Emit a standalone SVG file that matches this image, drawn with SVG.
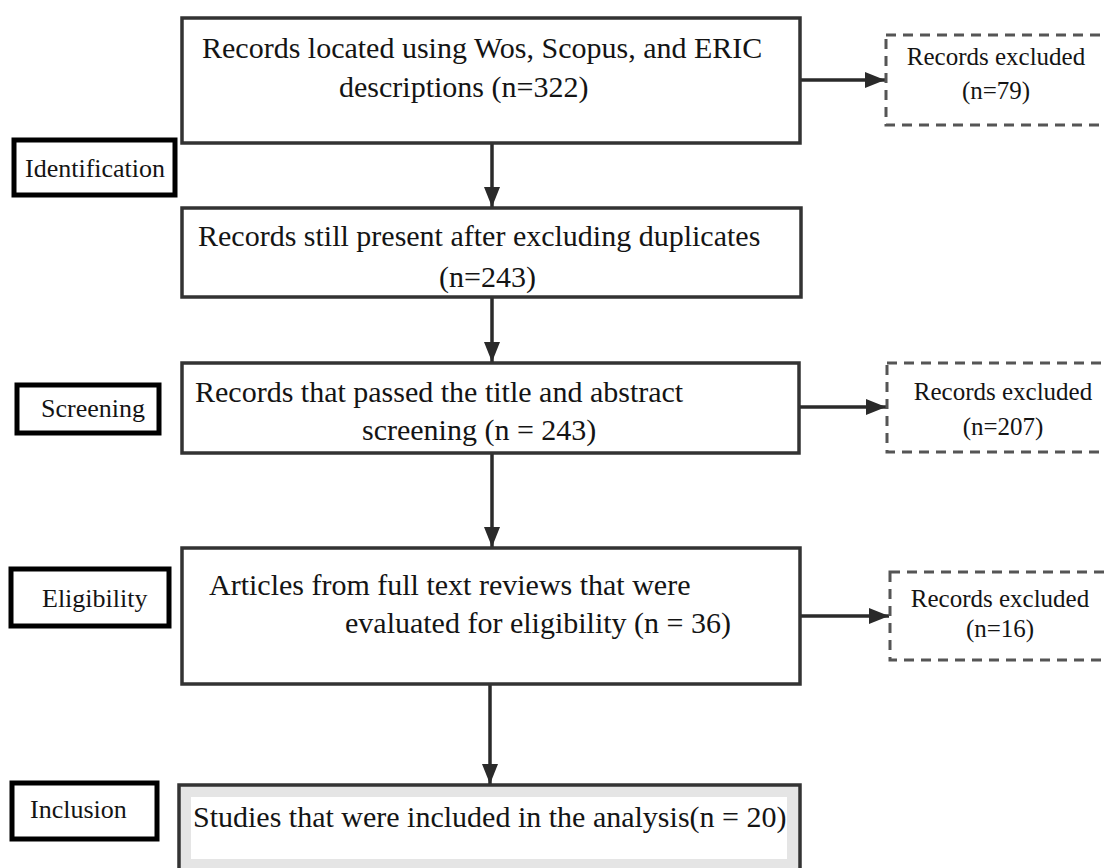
<svg xmlns="http://www.w3.org/2000/svg" width="1105" height="868" viewBox="0 0 1105 868">
<style>
.t{font-family:"Liberation Serif","Times New Roman",serif;fill:#141414}
.m{font-size:30px}
.s{font-size:25px}
.l{font-size:26px}
.box{fill:#fff;stroke:#333;stroke-width:3.5}
.lab{fill:#fff;stroke:#000;stroke-width:5}
.dash{fill:#fff;stroke:#555;stroke-width:3;stroke-dasharray:10 7}
.con{stroke:#2a2a2a;stroke-width:3.5;fill:none}
</style>
<defs>
<marker id="ah" markerUnits="userSpaceOnUse" markerWidth="22" markerHeight="16" refX="20" refY="8" orient="auto">
<path d="M0,0 L20,8 L0,16 z" fill="#2a2a2a"/>
</marker>
</defs>
<rect width="1105" height="868" fill="#fff"/>
<g id="connectors">
<line class="con" x1="492" y1="143" x2="492" y2="207" marker-end="url(#ah)"/>
<line class="con" x1="492" y1="297" x2="492" y2="362" marker-end="url(#ah)"/>
<line class="con" x1="492" y1="453" x2="492" y2="547" marker-end="url(#ah)"/>
<line class="con" x1="490" y1="684" x2="490" y2="784" marker-end="url(#ah)"/>
<line class="con" x1="800" y1="80" x2="885" y2="80" marker-end="url(#ah)"/>
<line class="con" x1="799" y1="407" x2="886" y2="407" marker-end="url(#ah)"/>
<line class="con" x1="800" y1="616" x2="889" y2="616" marker-end="url(#ah)"/>
</g>
<g id="n1">
<rect class="box" x="182" y="18" width="618" height="125"/>
<text class="t m" x="202" y="58">Records located using Wos, Scopus, and ERIC</text>
<text class="t m" x="339" y="97">descriptions (n=322)</text>
</g>
<g id="x1">
<rect class="dash" x="886" y="35" width="240" height="90"/>
<text class="t s" x="996" y="65" text-anchor="middle">Records excluded</text>
<text class="t s" x="996" y="99" text-anchor="middle">(n=79)</text>
</g>
<g id="lab-identification">
<rect class="lab" x="14" y="140" width="161" height="55"/>
<text class="t l" x="25" y="177">Identification</text>
</g>
<g id="n2">
<rect class="box" x="182" y="208" width="619" height="89"/>
<text class="t m" x="198" y="246">Records still present after excluding duplicates</text>
<text class="t m" x="439" y="287">(n=243)</text>
</g>
<g id="n3">
<rect class="box" x="182" y="363" width="617" height="90"/>
<text class="t m" x="195" y="402">Records that passed the title and abstract</text>
<text class="t m" x="362" y="440">screening (n = 243)</text>
</g>
<g id="lab-screening">
<rect class="lab" x="17" y="385" width="142" height="48"/>
<text class="t l" x="41" y="417">Screening</text>
</g>
<g id="x2">
<rect class="dash" x="887" y="363" width="240" height="89"/>
<text class="t s" x="1003" y="400" text-anchor="middle">Records excluded</text>
<text class="t s" x="1003" y="435" text-anchor="middle">(n=207)</text>
</g>
<g id="n4">
<rect class="box" x="182" y="548" width="618" height="136"/>
<text class="t m" x="209" y="595">Articles from full text reviews that were</text>
<text class="t m" x="345" y="633">evaluated for eligibility (n = 36)</text>
</g>
<g id="lab-eligibility">
<rect class="lab" x="11" y="569" width="158" height="57"/>
<text class="t l" x="42" y="607">Eligibility</text>
</g>
<g id="x3">
<rect class="dash" x="890" y="572" width="240" height="88"/>
<text class="t s" x="1000" y="607" text-anchor="middle">Records excluded</text>
<text class="t s" x="1000" y="637" text-anchor="middle">(n=16)</text>
</g>
<g id="n5">
<rect x="179" y="785" width="621" height="95" fill="#e5e5e5" stroke="#333" stroke-width="3.5"/>
<rect x="191" y="797" width="596" height="62" fill="#fff"/>
<text class="t m" x="193" y="827">Studies that were included in the analysis(n = 20)</text>
</g>
<g id="lab-inclusion">
<rect class="lab" x="12" y="783" width="145" height="56"/>
<text class="t l" x="30" y="818">Inclusion</text>
</g>
</svg>
